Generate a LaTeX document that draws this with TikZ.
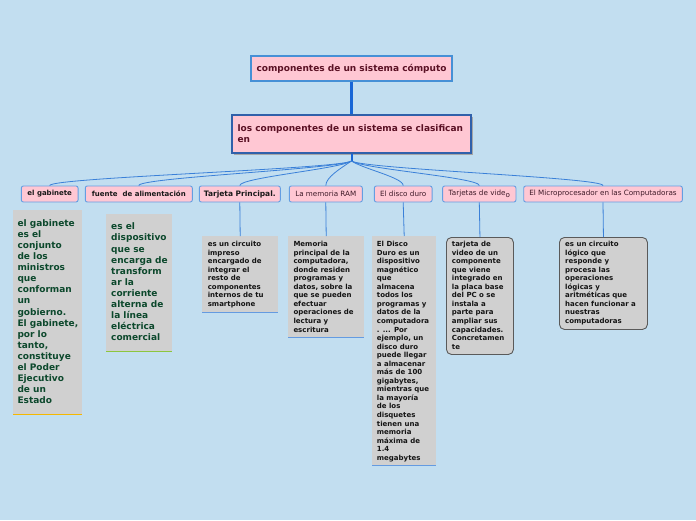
\documentclass[tikz,border=0pt]{standalone}
\usepackage{fontspec}
\setmainfont{DejaVu Sans}
\definecolor{bg}{RGB}{194,222,240}
\definecolor{pinkf}{RGB}{255,199,211}
\definecolor{lvlborder}{RGB}{100,158,226}
\definecolor{rootborder}{RGB}{70,144,214}
\definecolor{secborder}{RGB}{48,96,170}
\definecolor{maroonT}{RGB}{90,16,36}
\definecolor{lblT}{RGB}{62,26,40}
\definecolor{grayf}{RGB}{208,208,208}
\definecolor{dgreen}{RGB}{12,72,44}
\definecolor{thickC}{RGB}{24,102,214}
\definecolor{thinC}{RGB}{58,128,216}
\definecolor{goldl}{RGB}{245,184,0}
\definecolor{greenl}{RGB}{140,198,63}
\definecolor{bluel}{RGB}{100,155,225}
\definecolor{dkb}{RGB}{90,90,90}
\begin{document}
\begin{tikzpicture}[x=1pt,y=-1pt,
  rootbox/.style={draw=rootborder, line width=1.2pt, fill=pinkf, inner sep=0pt,
    font=\bfseries\fontsize{9}{11}\selectfont, text=maroonT},
  secbox/.style={draw=secborder, line width=1.6pt, fill=pinkf, inner sep=0pt},
  lvlbox/.style={draw=lvlborder, line width=0.9pt, fill=pinkf, rounded corners=2pt,
    inner sep=0pt, minimum height=16pt},
  lblbold/.style={font=\bfseries\fontsize{7}{8}\selectfont, text=black!90},
  lblreg/.style={font=\fontsize{7.2}{8}\selectfont, text=lblT},
  detail/.style={fill=grayf, inner sep=0pt, anchor=north west},
  rdetail/.style={fill=grayf, draw=dkb, line width=0.9pt, rounded corners=5pt, inner sep=0pt, anchor=north west},
  smalltxt/.style={anchor=north west, inner sep=0pt, align=left,
    font=\bfseries\fontsize{7}{8.55}\selectfont, text=black!92},
  bigtxt/.style={anchor=north west, inner sep=0pt, align=left,
    font=\bfseries\fontsize{9}{11.1}\selectfont, text=dgreen},
  thickline/.style={draw=thickC, line width=2.2pt},
  thinline/.style={draw=thinC, line width=0.8pt},
  baseline/.style={line width=1.5pt}
]
\fill[bg] (0,0) rectangle (696,520);
\useasboundingbox (0,0) rectangle (696,520);

% top nodes
\node[rootbox, minimum width=201pt, minimum height=25pt] (root) at (351.5,68.5) {componentes de un sistema cómputo};
\fill[black!35] (233.5,116.5) rectangle (472.5,154.5);
\node[secbox, minimum width=239pt, minimum height=38pt] (sec) at (351.5,134) {};
\node[anchor=north west, inner sep=0pt, align=left, font=\bfseries\fontsize{9}{11.6}\selectfont, text=maroonT] (sect) at (237.3,124.3) {los componentes de un sistema se clasifican\\en};
\coordinate (hub) at (351.5,161);

% level 3
\node[lvlbox, minimum width=56.7pt, lblbold] (g) at (49.7,194) {el gabinete};
\node[lvlbox, minimum width=107pt, lblbold] (f) at (138.8,194) {fuente\ \ de alimentación};
\node[lvlbox, minimum width=81pt, lblbold, font=\bfseries\fontsize{7.5}{8}\selectfont] (tp) at (239.8,194) {Tarjeta Principal.};
\node[lvlbox, minimum width=73pt, lblreg] (ram) at (325.8,194) {La memoria RAM};
\node[lvlbox, minimum width=57.7pt, lblreg] (dd) at (403.2,194) {El disco duro};
\node[lvlbox, minimum width=73.3pt, lblreg] (tv) at (479.3,194) {Tarjetas de vide\raisebox{-1.8pt}{o}};
\node[lvlbox, minimum width=158.6pt, lblreg] (mp) at (603,194) {El Microprocesador en las Computadoras};

% details
\node[detail, minimum width=69pt, minimum height=204pt] (dg) at (13,210) {};
\node[detail, minimum width=66pt, minimum height=137pt] (df) at (106,214) {};
\node[detail, minimum width=76pt, minimum height=76pt] (dtp) at (202,236) {};
\node[detail, minimum width=76pt, minimum height=101pt] (dram) at (288,236) {};
\node[detail, minimum width=64pt, minimum height=229pt] (ddd) at (372,236) {};
\node[rdetail, minimum width=67pt, minimum height=117pt] (dtv) at (446,237) {};
\node[rdetail, minimum width=88pt, minimum height=92pt] (dmp) at (559,237) {};

\draw[baseline, goldl] (dg.south west) -- (dg.south east);
\draw[baseline, greenl] (df.south west) -- (df.south east);
\draw[baseline, bluel] (dtp.south west) -- (dtp.south east);
\draw[baseline, bluel] (dram.south west) -- (dram.south east);
\draw[baseline, bluel] (ddd.south west) -- (ddd.south east);

% detail texts
\node[bigtxt] (tg) at (17.3,219.2) {el gabinete\\es el\\conjunto\\de los\\ministros\\que\\conforman\\un\\gobierno.\\El gabinete,\\por lo\\tanto,\\constituye\\el Poder\\Ejecutivo\\de un\\Estado};
\node[bigtxt] (tf) at (111,222.8) {es el\\dispositivo\\que se\\encarga de\\transform\\ar la\\corriente\\alterna de\\la línea\\eléctrica\\comercial};
\node[smalltxt] (ttp) at (207.6,241) {es un circuito\\impreso\\encargado de\\integrar el\\resto de\\componentes\\internos de tu\\smartphone};
\node[smalltxt] (tram) at (293.3,241) {Memoria\\principal de la\\computadora,\\donde residen\\programas y\\datos, sobre la\\que se pueden\\efectuar\\operaciones de\\lectura y\\escritura};
\node[smalltxt] (tdd) at (376.7,241) {El Disco\\Duro es un\\dispositivo\\magnético\\que\\almacena\\todos los\\programas y\\datos de la\\computadora\\. ... Por\\ejemplo, un\\disco duro\\puede llegar\\a almacenar\\más de 100\\gigabytes,\\mientras que\\la mayoría\\de los\\disquetes\\tienen una\\memoria\\máxima de\\1.4\\megabytes};
\node[smalltxt] (ttv) at (451.7,241) {tarjeta de\\video de un\\componente\\que viene\\integrado en\\la placa base\\del PC o se\\instala a\\parte para\\ampliar sus\\capacidades.\\Concretamen\\te};
\node[smalltxt] (tmp) at (565,241) {es un circuito\\lógico que\\responde y\\procesa las\\operaciones\\lógicas y\\aritméticas que\\hacen funcionar a\\nuestras\\computadoras};

% connectors
\draw[thickline] (root.south) -- (sec.north);
\draw[thickline, line width=2pt] (sec.south) -- (hub);
\foreach \n/\s in {g/-1,f/-1,tp/-1,ram/-1,dd/1,tv/1,mp/1}
  \draw[thinline] (hub) .. controls ([xshift=\s*12pt,yshift=-8pt]hub) and ([yshift=8pt]\n.north) .. (\n.north);
\draw[thinline] (tp.south) -- (dtp.north);
\draw[thinline] (ram.south) -- (dram.north);
\draw[thinline] (dd.south) -- (ddd.north);
\draw[thinline] (tv.south) -- (dtv.north);
\draw[thinline] (mp.south) -- (dmp.north);
\end{tikzpicture}
\end{document}
